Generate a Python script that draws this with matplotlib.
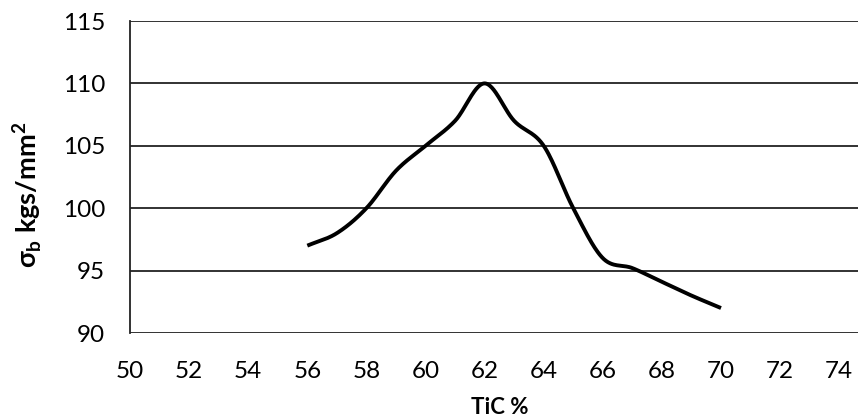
import numpy as np
import matplotlib
matplotlib.use("Agg")
import matplotlib.pyplot as plt

tic = [56, 57, 58, 59, 60, 61, 62, 63, 64, 65, 66, 67, 68, 69, 70]
sigma = [97, 98, 100, 103, 105, 107, 110, 107, 105, 100, 96, 95.2, 94.1, 93, 92]
xticks = list(range(50, 75, 2))
yticks = [90, 95, 100, 105, 110, 115]

plt.rcParams['mathtext.fontset'] = 'custom'
plt.rcParams['mathtext.rm'] = 'Lato'
plt.rcParams['mathtext.bf'] = 'Lato:bold'
plt.rcParams['font.family'] = ['Lato', 'DejaVu Sans']


def catmull_rom(x, y, n=30, tension=0.5):
    x = np.asarray(x, float); y = np.asarray(y, float)
    px = np.concatenate([[2 * x[0] - x[1]], x, [2 * x[-1] - x[-2]]])
    py = np.concatenate([[2 * y[0] - y[1]], y, [2 * y[-1] - y[-2]]])
    xs, ys = [], []
    for i in range(1, len(px) - 2):
        p0, p1, p2, p3 = [np.array([px[j], py[j]]) for j in (i - 1, i, i + 1, i + 2)]
        c1 = p1 + (p2 - p0) * tension / 3
        c2 = p2 - (p3 - p1) * tension / 3
        t = np.linspace(0, 1, n)[:, None]
        b = ((1 - t) ** 3) * p1 + 3 * ((1 - t) ** 2) * t * c1 + 3 * (1 - t) * t ** 2 * c2 + t ** 3 * p2
        xs.extend(b[:, 0]); ys.extend(b[:, 1])
    return np.array(xs), np.array(ys)


fig = plt.figure(figsize=(8.58, 4.2), dpi=100)
ax = fig.add_axes([130 / 858, 1 - 333 / 420, 1 - 130 / 858, (333 - 21) / 420])

sx, sy = catmull_rom(tic, sigma)
ax.plot(sx, sy, color='black', lw=2.8, solid_capstyle='butt', zorder=3)

ax.set_xlim(50, 50 + (858 - 130) / 29.55)
ax.set_ylim(90, 115)
ax.set_xticks(xticks)
ax.set_yticks(yticks)
ax.yaxis.grid(True, color='#222222', lw=1.3)
ax.set_axisbelow(True)
for s in ['top', 'right', 'bottom']:
    ax.spines[s].set_visible(False)
ax.spines['left'].set_color('#222222')
ax.spines['left'].set_linewidth(1.3)
ax.tick_params(axis='both', length=0, labelsize=17.5, colors='black')
ax.tick_params(axis='x', pad=20)
ax.tick_params(axis='y', pad=18)

ax.set_xlabel('TiC %', fontsize=16, fontweight='bold')
ax.xaxis.set_label_coords((500 - 130) / 728, -(397 - 333) / 312)
ax.set_ylabel(r'σ$_{\mathbf{b}}$ kgs/mm$^{\mathbf{2}}$', fontsize=19.5, fontweight='bold')
ax.yaxis.set_label_coords(-(130 - 44) / 728, (333 - 195) / 312)

fig.savefig('out.png', dpi=100, facecolor='white')
